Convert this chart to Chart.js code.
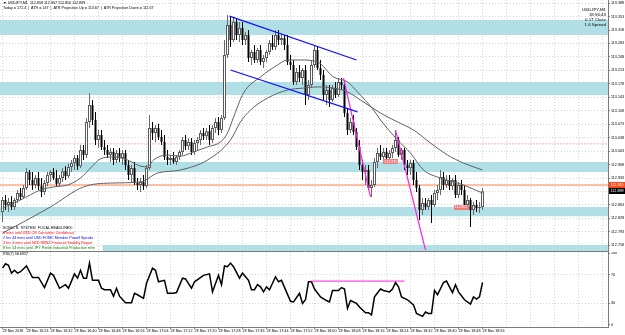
<!DOCTYPE html>
<html><head><meta charset="utf-8">
<script src="https://cdn.jsdelivr.net/npm/chart.js@4.4.0/dist/chart.umd.min.js"></script>
<style>
html,body{margin:0;padding:0;background:#fff;}
#wrap{position:relative;width:625px;height:335px;overflow:hidden;background:#fff;font-family:"Liberation Sans",Arial,sans-serif;color:#000;}
#cA{position:absolute;left:0;top:0;width:625px;height:252px;}
#cB{position:absolute;left:0;top:252px;width:625px;height:83px;}
.t{position:absolute;white-space:pre;line-height:1;}
</style></head><body>
<div id="wrap">
<canvas id="cA" width="625" height="252"></canvas>
<canvas id="cB" width="625" height="83"></canvas>
<div class="t" style="left:3px;top:1.5px;font-size:3.7px;">▼ USDJPY,M1  112.858 112.907 112.850 112.899</div>
<div class="t" style="left:3px;top:6.5px;font-size:3.7px;">Today = 172.4  |  ATR = 147  |  ATR Projection Up = 113.67  |  ATR Projection Down = 111.67</div>
<div class="t" style="right:19px;top:8px;font-size:4.4px;line-height:4.9px;text-align:right;">USDJPY,M1<br>18:56:43<br>0.17 Close<br>1.6 Spread</div>
<div class="t" style="left:3px;top:226px;font-size:3.7px;line-height:4.9px;"><span>SONIC R. SYSTEM  FOCAL HEADLINES:</span><br><span style="color:#ff0000">4 mins until USD CB Consumer Confidence</span><br><span style="color:#0000ff">2 hrs 44 mins until USD FOMC Member Powell Speaks</span><br><span style="color:#ff0000">3 hrs 4 mins until NZD RBNZ Financial Stability Report</span><br><span style="color:#008000">8 hrs 54 mins until JPY Prelim Industrial Production m/m</span></div>
<div class="t" style="left:3px;top:253px;font-size:3.7px;">RSI(7) 58.6957</div>
</div>
<script>
// ---------- DATA ----------
const timeLabels = ["29 Nov 2018","29 Nov 16:24","29 Nov 16:32","29 Nov 16:40","29 Nov 16:48","29 Nov 16:56","29 Nov 17:04","29 Nov 17:12","29 Nov 17:20","29 Nov 17:28","29 Nov 17:36","29 Nov 17:44","29 Nov 17:52","29 Nov 18:00","29 Nov 18:08","29 Nov 18:16","29 Nov 18:24","29 Nov 18:32","29 Nov 18:40","29 Nov 18:48","29 Nov 18:56"];
const xTickIdx = [0,8,16,24,32,40,48,56,64,72,80,88,96,104,112,120,128,136,144,152,160,168,176,184,192,200];
const priceTicks = [113.388,113.353,113.318,113.283,113.248,113.213,113.178,113.143,113.108,113.073,113.038,113.003,112.968,112.933,112.898,112.863,112.828,112.793,112.758];
const rsiTicks = [0,30,70,100];

const openP = [112.845,112.876,112.863,112.871,112.858,112.876,112.894,112.884,112.907,112.949,
112.928,112.915,112.933,112.912,112.897,112.920,112.941,112.949,112.933,112.918,
112.933,112.951,112.938,112.962,112.972,112.985,112.964,113.006,112.993,113.079,
113.123,113.084,113.032,113.045,113.014,113.006,112.993,113.001,112.980,112.998,
112.985,112.998,112.967,112.941,112.959,112.920,112.915,112.923,112.912,112.959,
113.063,113.050,113.063,113.040,113.027,112.988,112.980,112.985,112.975,112.988,
113.001,113.032,113.016,113.027,113.001,113.024,113.032,113.050,113.042,113.055,
113.032,113.063,113.079,113.058,113.089,113.253,113.331,113.292,113.339,113.305,
113.323,113.292,113.305,113.245,113.261,113.240,113.266,113.235,113.245,113.261,
113.284,113.274,113.305,113.292,113.297,113.279,113.235,113.227,113.183,113.209,
113.193,113.214,113.149,113.175,113.227,113.266,113.219,113.201,113.149,113.162,
113.136,113.167,113.149,113.183,113.175,113.102,113.058,113.079,113.053,113.014,
112.967,112.949,112.954,112.907,112.915,112.975,112.998,112.988,113.001,112.985,
112.998,113.011,113.032,112.993,113.006,112.967,112.959,112.972,112.928,112.907,
112.850,112.868,112.858,112.876,112.863,112.894,112.902,112.936,112.915,112.928,
112.912,112.928,112.889,112.915,112.902,112.863,112.876,112.850,112.863,112.855,
112.858];
const highP = [112.884,112.889,112.881,112.886,112.881,112.902,112.907,112.915,112.959,112.954,
112.949,112.941,112.949,112.933,112.928,112.949,112.954,112.959,112.954,112.941,
112.959,112.964,112.970,112.980,112.993,112.993,113.019,113.019,113.089,113.154,
113.136,113.105,113.058,113.058,113.032,113.019,113.011,113.011,113.006,113.011,
113.006,113.006,112.980,112.967,112.975,112.933,112.933,112.941,112.967,113.097,
113.079,113.071,113.074,113.058,113.045,113.006,112.993,113.001,112.993,113.006,
113.040,113.045,113.037,113.037,113.032,113.040,113.058,113.063,113.063,113.071,
113.071,113.089,113.092,113.097,113.292,113.357,113.354,113.349,113.349,113.339,
113.339,113.313,113.318,113.266,113.279,113.271,113.279,113.253,113.266,113.292,
113.305,113.318,113.318,113.305,113.305,113.305,113.253,113.240,113.219,113.227,
113.219,113.227,113.188,113.240,113.279,113.274,113.240,113.214,113.175,113.175,
113.175,113.183,113.193,113.193,113.188,113.115,113.089,113.097,113.063,113.032,
112.980,112.967,112.967,112.928,112.985,113.011,113.019,113.011,113.011,113.006,
113.019,113.058,113.040,113.011,113.011,112.980,112.980,112.980,112.949,112.915,
112.881,112.881,112.881,112.889,112.902,112.915,112.954,112.949,112.941,112.941,
112.933,112.941,112.923,112.928,112.915,112.889,112.881,112.871,112.876,112.871,
112.907];
const lowP = [112.819,112.850,112.845,112.850,112.850,112.868,112.876,112.879,112.902,112.915,
112.902,112.907,112.902,112.884,112.889,112.912,112.923,112.928,112.912,112.910,
112.923,112.928,112.933,112.949,112.954,112.954,112.959,112.980,112.985,113.063,
113.071,113.019,113.011,113.006,112.993,112.985,112.975,112.967,112.972,112.975,
112.967,112.954,112.928,112.923,112.915,112.902,112.897,112.902,112.907,112.954,
113.032,113.027,113.032,113.019,112.980,112.967,112.967,112.970,112.967,112.980,
112.993,113.006,113.006,112.993,112.993,113.006,113.019,113.032,113.032,113.019,
113.024,113.050,113.045,113.050,113.084,113.245,113.274,113.287,113.292,113.287,
113.279,113.279,113.235,113.227,113.232,113.232,113.227,113.219,113.235,113.253,
113.266,113.266,113.279,113.279,113.266,113.227,113.214,113.175,113.175,113.183,
113.175,113.123,113.136,113.167,113.219,113.214,113.188,113.136,113.123,113.118,
113.131,113.141,113.144,113.162,113.092,113.045,113.050,113.045,113.006,112.954,
112.928,112.915,112.902,112.884,112.910,112.959,112.980,112.980,112.975,112.980,
112.985,113.001,112.988,112.980,112.954,112.941,112.941,112.915,112.897,112.824,
112.837,112.850,112.850,112.816,112.858,112.876,112.889,112.902,112.907,112.902,
112.902,112.881,112.881,112.889,112.855,112.850,112.806,112.837,112.845,112.842,
112.850];
const closeP = [112.876,112.863,112.871,112.858,112.876,112.894,112.884,112.907,112.949,112.928,
112.915,112.933,112.912,112.897,112.920,112.941,112.949,112.933,112.918,112.933,
112.951,112.938,112.962,112.972,112.985,112.964,113.006,112.993,113.079,113.123,
113.084,113.032,113.045,113.014,113.006,112.993,113.001,112.980,112.998,112.985,
112.998,112.967,112.941,112.959,112.920,112.915,112.923,112.912,112.959,113.063,
113.050,113.063,113.040,113.027,112.988,112.980,112.985,112.975,112.988,113.001,
113.032,113.016,113.027,113.001,113.024,113.032,113.050,113.042,113.055,113.032,
113.063,113.079,113.058,113.089,113.253,113.331,113.292,113.339,113.305,113.323,
113.292,113.305,113.245,113.261,113.240,113.266,113.235,113.245,113.261,113.284,
113.274,113.305,113.292,113.297,113.279,113.235,113.227,113.183,113.209,113.193,
113.214,113.149,113.175,113.227,113.266,113.219,113.201,113.149,113.162,113.136,
113.167,113.149,113.183,113.175,113.102,113.058,113.079,113.053,113.014,112.967,
112.949,112.954,112.907,112.915,112.975,112.998,112.988,113.001,112.985,112.998,
113.011,113.032,112.993,113.006,112.967,112.959,112.972,112.928,112.907,112.850,
112.868,112.858,112.876,112.863,112.894,112.902,112.936,112.915,112.928,112.912,
112.928,112.889,112.915,112.902,112.863,112.876,112.850,112.863,112.855,112.858,
112.899];

// moving averages (read at visible vertices: bar index, price)
const maFastIdx = [0,6,12.67,17,21.67,26,29.33,32.67,37,41.67,46,48.33,50.33,55,59.33,63.67,68.33,72.67,75,76.67,80.33,86,91.67,95,99.33,105,110.33,115,118.33,123.67,126,131.67,136,140.33,146,153.67,160];
const maFastVal = [112.855,112.876,112.902,112.910,112.915,112.933,112.959,112.983,112.988,112.980,112.964,112.962,112.980,112.993,112.990,113.001,113.014,113.027,113.050,113.084,113.154,113.196,113.227,113.240,113.240,113.235,113.196,113.183,113.157,113.110,113.084,113.032,112.998,112.954,112.933,112.915,112.894];
const maSlowIdx = [0,7,16,27,36,46,51.67,59.33,68.33,76,79.33,82.67,88.33,95,100.33,105,110.33,115,119.33,126,131.67,137,142.67,148.33,153.67,160];
const maSlowVal = [112.790,112.819,112.858,112.910,112.920,112.923,112.946,112.954,112.980,113.032,113.079,113.110,113.141,113.162,113.167,113.170,113.167,113.157,113.136,113.102,113.079,113.058,113.024,112.993,112.972,112.954];

// zones [fromIdx, toIdx, top, bottom]
const zoneFrom = [-2,-2,-2,-2,33.3];
const zoneTo = [205,205,205,205,205];
const zoneTop = [113.344,113.183,112.975,112.858,112.759];
const zoneBottom = [113.305,113.149,112.949,112.834,112.740];

// horizontal levels
const dottedLevel = 113.022;
const bidLevel = 112.915;

// trend lines [idx1, price1, idx2, price2]
const channelUpper = [75.67,113.354,118,113.240];
const channelLower = [76,113.214,118.33,113.105];
const pinkLine1 = [113.67,113.193,122.67,112.884];
const pinkLine2 = [131,113.058,141,112.746];

// small tags
const tagIdx = [129.3,152.7];
const tagPrice = [112.975,112.857];

// RSI(7) vertices
const rsiIdx = [0,1,2,3,4,5,6,8,10,12,14,16,17,19,21,22,24,25,26,27,28,29,30,32,33,34,36,37,38,39,41,43,44,45,47,48,50,51,52,54,55,57,58,60,61,63,64,67,69,70,72,73,74,75,76,77,79,80,82,83,84,85,86,87,88,89,91,92,93,96,97,99,100,101,102,103,104,106,108,109,110,112,113,114,115,116,118,119,121,122,123,124,126,127,129,130,131,132,133,135,137,138,140,141,142,143,144,145,147,148,149,150,151,152,154,156,157,158,159,160];
const rsiVal = [79,85,83,72,76,72,74,82,66,66,52,72,69,51,56,51,71,65,76,65,65,86,62,62,51,49,49,40,51,40,31,31,44,42,37,58,79,76,60,62,44,44,45,65,64,51,60,69,71,46,69,56,82,81,86,81,65,72,62,49,49,56,53,46,53,49,67,60,62,33,32,44,30,35,60,60,50,39,34,32,48,48,52,50,23,34,30,25,17,17,14,39,50,48,46,50,59,53,39,35,28,16,12,18,16,16,48,42,59,61,53,45,56,46,35,29,39,36,39,59];
const rsiLevel = 61;
const rsiLevelFrom = 102.67, rsiLevelTo = 134;

// ---------- BUILD ----------
const X_MIN = -0.8333, X_MAX = 201.8333;
const FONT = {size:3.7, family:'"Liberation Sans", Arial, sans-serif'};
const GRID = '#d2d2d2';
const AXIS = '#7a7a7a';

const idx = openP.map((_, i) => i);
const wickData = idx.map(i => ({x:i, y:[lowP[i], highP[i]]}));
const bullData = idx.filter(i => closeP[i] >= openP[i]).map(i => ({x:i, y:[openP[i], closeP[i]]}));
const bearData = idx.filter(i => closeP[i] < openP[i]).map(i => ({x:i, y:[openP[i], closeP[i]]}));

function seg(a, color, w){
  return {type:'line', data:[{x:a[0],y:a[1]},{x:a[2],y:a[3]}], borderColor:color, borderWidth:w, pointRadius:0, fill:false, order:2};
}
function hline(v, color, dash){
  return {type:'line', data:[{x:-2,y:v},{x:205,y:v}], borderColor:color, borderWidth:1, borderDash:dash, pointRadius:0, fill:false, order:15};
}

const datasets = [];
zoneTop.forEach((t, k) => {
  datasets.push({type:'line', data:[{x:zoneFrom[k],y:t},{x:zoneTo[k],y:t}], borderColor:'rgba(0,0,0,0)', borderWidth:0,
    backgroundColor:'#b0e0e6', fill:{value:zoneBottom[k]}, pointRadius:0, order:20});
});
datasets.push(hline(dottedLevel, '#ff6a6a', [1,2]));
datasets.push(hline(bidLevel, '#ff7f45', []));
datasets.push({type:'bar', data:wickData, barThickness:1, grouped:false, inflateAmount:0, borderWidth:0,
  backgroundColor: c => (closeP[c.dataIndex] >= openP[c.dataIndex] ? '#6a6a6a' : '#000'), order:6});
datasets.push({type:'bar', data:bullData, barThickness:3, grouped:false, inflateAmount:0, borderWidth:1, borderSkipped:false,
  backgroundColor:'#ffffff', borderColor:'#5a5a5a', order:5});
datasets.push({type:'bar', data:bearData, barThickness:2, grouped:false, inflateAmount:0, borderWidth:0,
  backgroundColor:'#000', order:5});
datasets.push({type:'line', data:maSlowIdx.map((v,k)=>({x:v,y:maSlowVal[k]})), borderColor:'#606060', borderWidth:1, pointRadius:0, cubicInterpolationMode:'monotone', fill:false, order:3});
datasets.push({type:'line', data:maFastIdx.map((v,k)=>({x:v,y:maFastVal[k]})), borderColor:'#606060', borderWidth:1, pointRadius:0, cubicInterpolationMode:'monotone', fill:false, order:3});
datasets.push(seg(channelUpper, '#1010ff', 1.3));
datasets.push(seg(channelLower, '#1010ff', 1.3));
datasets.push(seg(pinkLine1, '#ff20e0', 1.2));
datasets.push(seg(pinkLine2, '#ff20e0', 1.2));

const overlayA = {
  id:'ovA',
  afterDraw(chart){
    const {ctx, chartArea, scales} = chart;
    const y = scales.y, x = scales.x;
    ctx.save();
    ctx.font = '3.7px "Liberation Sans", Arial, sans-serif';
    ctx.textBaseline = 'middle';
    tagIdx.forEach((ti, k) => {
      const px = x.getPixelForValue(ti), py = y.getPixelForValue(tagPrice[k]);
      ctx.fillStyle = '#f07a7a';
      ctx.fillRect(Math.round(px-7), Math.round(py-2.5), 15, 5);
      ctx.fillStyle = '#fff';
      ctx.textAlign = 'center';
      ctx.fillText(tagPrice[k].toFixed(3), px+0.5, py);
    });
    ctx.textAlign = 'left';
    [[bidLevel,'#ff4a1a'],[closeP[closeP.length-1],'#000']].forEach(([v,bg]) => {
      const py = y.getPixelForValue(v);
      ctx.fillStyle = bg;
      ctx.fillRect(chartArea.right+1, Math.round(py-3), 16, 6);
      ctx.fillStyle = '#fff';
      ctx.fillText(v.toFixed(3), chartArea.right+2.5, py);
    });
    ctx.restore();
  }
};

const common = {responsive:false, animation:false, events:[], devicePixelRatio:1,
  layout:{padding:0}, plugins:{legend:{display:false}, tooltip:{enabled:false}}};

new Chart(document.getElementById('cA'), {
  type:'line',
  data:{datasets},
  options:Object.assign({}, common, {
    scales:{
      x:{type:'linear', min:X_MIN, max:X_MAX, offset:false,
        afterBuildTicks:s => { s.ticks = xTickIdx.map(v => ({value:v})); },
        afterFit:s => { s.height = 1; s.paddingLeft = 0; s.paddingRight = 0; },
        ticks:{display:false},
        grid:{offset:false, color:GRID, lineWidth:1, drawTicks:false},
        border:{display:true, color:AXIS, dash:[1,2]}},
      y:{type:'linear', position:'right', min:112.7434, max:113.396,
        afterBuildTicks:s => { s.ticks = priceTicks.map(v => ({value:v})); },
        afterFit:s => { s.width = 17; s.paddingTop = 0; s.paddingBottom = 0; },
        ticks:{autoSkip:false, padding:1, color:'#000', font:FONT, callback:v => Number(v).toFixed(3)},
        grid:{color:GRID, lineWidth:1, drawTicks:true, tickLength:2, tickColor:AXIS},
        border:{display:true, color:AXIS, dash:[1,2]}}
    }
  }),
  plugins:[overlayA]
});

new Chart(document.getElementById('cB'), {
  type:'line',
  data:{datasets:[
    {type:'line', data:rsiIdx.map((v,k)=>({x:v,y:rsiVal[k]})), borderColor:'#000', borderWidth:1.5, pointRadius:0, fill:false, order:2},
    {type:'line', data:[{x:rsiLevelFrom,y:rsiLevel},{x:rsiLevelTo,y:rsiLevel}], borderColor:'#ff20e0', borderWidth:1, pointRadius:0, fill:false, order:1}
  ]},
  options:Object.assign({}, common, {
    scales:{
      x:{type:'linear', min:X_MIN, max:X_MAX, offset:false,
        afterBuildTicks:s => { s.ticks = xTickIdx.map(v => ({value:v})); },
        afterFit:s => { s.height = 8; s.paddingLeft = 0; s.paddingRight = 0; },
        ticks:{autoSkip:false, maxRotation:0, minRotation:0, align:'start', padding:0, color:'#000', font:FONT,
          callback:v => (timeLabels[v/8] !== undefined ? timeLabels[v/8] : '')},
        grid:{offset:false, color:GRID, lineWidth:1, drawTicks:true, tickLength:2,
          tickColor:c => (c.tick && c.tick.value <= 160 ? AXIS : 'rgba(0,0,0,0)')},
        border:{display:true, color:AXIS, dash:[1,2]}},
      y:{type:'linear', position:'right', min:-2.78, max:101.39,
        afterBuildTicks:s => { s.ticks = rsiTicks.map(v => ({value:v})); },
        afterFit:s => { s.width = 17; s.paddingTop = 0; s.paddingBottom = 0; },
        ticks:{autoSkip:false, padding:1, color:'#000', font:FONT},
        grid:{color:c => (c.tick && (c.tick.value === 30 || c.tick.value === 70) ? GRID : 'rgba(0,0,0,0)'),
          lineWidth:1, drawTicks:true, tickLength:2, tickColor:AXIS},
        border:{display:true, color:AXIS, dash:[1,2]}}
    }
  })
});
</script>
</body></html>
